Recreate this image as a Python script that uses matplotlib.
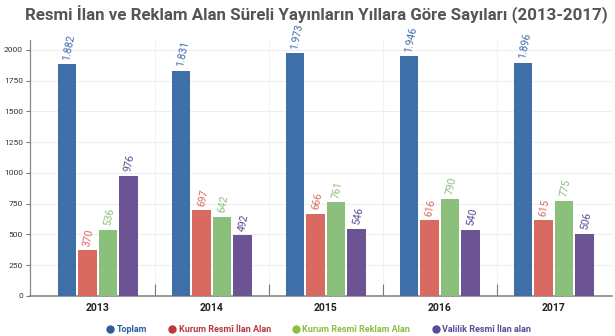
import matplotlib
matplotlib.use('Agg')
import matplotlib.pyplot as plt
from matplotlib.lines import Line2D
import numpy as np

plt.rcParams['font.family'] = ['Roboto', 'DejaVu Sans']

# data
years = ['2013', '2014', '2015', '2016', '2017']
toplam = [1882, 1831, 1973, 1946, 1896]
kurum_ilan = [370, 697, 666, 616, 615]
kurum_reklam = [536, 642, 761, 790, 775]
valilik_ilan = [976, 492, 546, 540, 506]

series = [toplam, kurum_ilan, kurum_reklam, valilik_ilan]
names = ['Toplam', 'Kurum Resmî İlan Alan', 'Kurum Resmî Reklam Alan', 'Valilik Resmî İlan alan']
colors = ['#3e6fa8', '#d86a62', '#8ac07c', '#6c5494']
label_colors = ['#3e6fa8', '#d86a62', '#8ac07c', '#5b4a92']
legend_colors = ['#2f5c9c', '#b8383c', '#8cbf3f', '#5b4a98']

fig = plt.figure(figsize=(6.15, 3.36), dpi=100)
ax = fig.add_axes([30/615, 1-296/336, 582/615, 256/336])

x = np.arange(len(years))
width = 0.162
step = 0.18
for i, (vals, c, lc) in enumerate(zip(series, colors, label_colors)):
    pos = x + (i - 1.5) * step
    ax.bar(pos, vals, width=width, color=c, zorder=3)
    for p, v in zip(pos, vals):
        txt = '{:,}'.format(v).replace(',', '.')
        ax.annotate(txt, (p, v), xytext=(-0.5, 3), textcoords='offset points',
                    rotation=78, rotation_mode='anchor', ha='left', va='center',
                    fontsize=7.5, color=lc)

ax.set_xlim(-0.596, 4.51)
ax.set_ylim(0, 2080)
ax.set_yticks(np.arange(0, 2001, 250))
ax.tick_params(axis='y', labelsize=6, colors='#777777', labelcolor='#333333', length=3, width=0.8, pad=2)

# year labels and separators
ax.set_xticks(x)
ax.set_xticklabels(years, fontsize=7.5, fontweight='bold', color='#222222')
ax.tick_params(axis='x', length=0, pad=5)
ax.set_xticks(x[:-1] + 0.5, minor=True)
ax.tick_params(axis='x', which='minor', direction='in', length=9, width=0.8, colors='#777777')

ax.grid(axis='y', color='#eeeeee', lw=0.8, zorder=0)
ax.grid(axis='x', which='minor', color='#f2f2f2', lw=0.8, zorder=0)
for s in ['top', 'right']:
    ax.spines[s].set_visible(False)
ax.spines['left'].set_color('#888888')
ax.spines['bottom'].set_color('#888888')
ax.spines['left'].set_linewidth(0.9)
ax.spines['bottom'].set_linewidth(1.2)

fig.text(0.515, 0.955, 'Resmi İlan ve Reklam Alan Süreli Yayınların Yıllara Göre Sayıları (2013-2017)',
         ha='center', va='center', fontsize=12.2, fontweight='bold', color='#555555')

handles = [Line2D([], [], marker='o', ls='', color=c, markersize=5) for c in legend_colors]
leg = fig.legend(handles, names, loc='center', bbox_to_anchor=(0.517, 0.018), ncol=4,
                 frameon=False, fontsize=6.5, handletextpad=0.1, columnspacing=2.2,
                 handlelength=1.2)
for t, c in zip(leg.get_texts(), legend_colors):
    t.set_color(c)
    t.set_fontweight('bold')

fig.savefig('out.png', dpi=100)
